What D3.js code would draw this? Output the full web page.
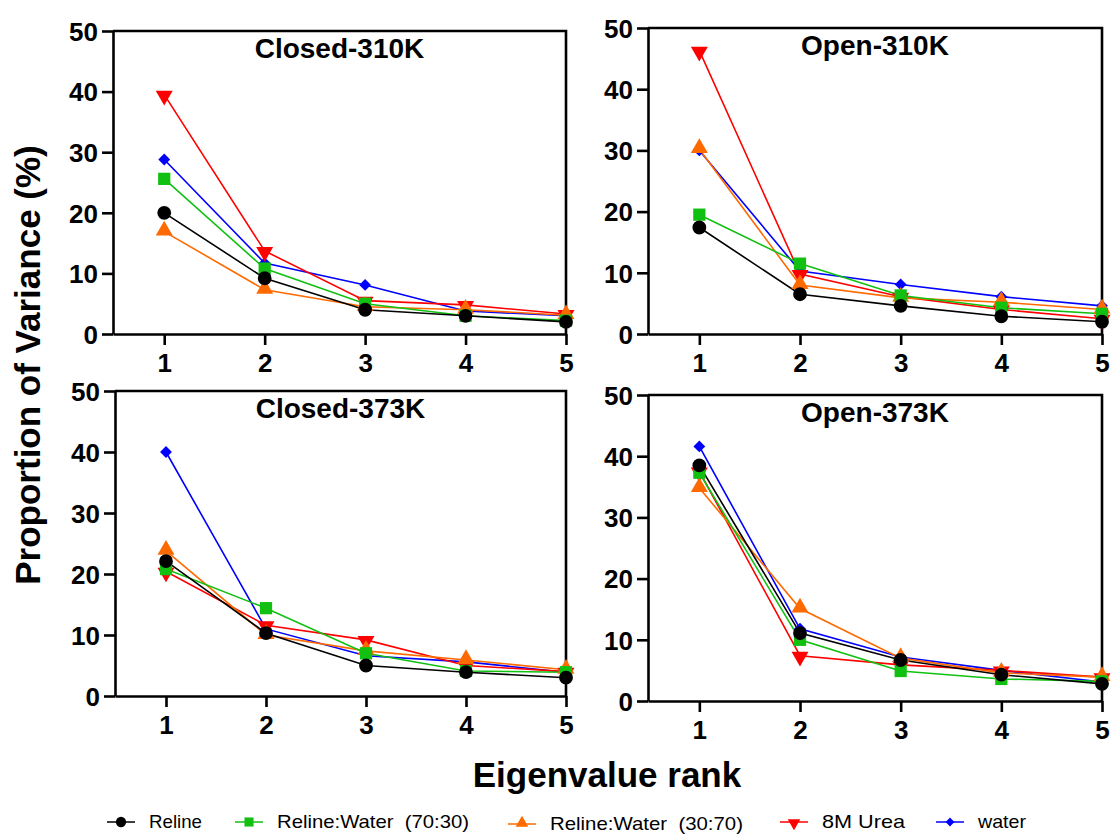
<!DOCTYPE html>
<html>
<head>
<meta charset="utf-8">
<script src="https://cdn.jsdelivr.net/npm/d3@7/dist/d3.min.js"></script>
<style>
  html, body { margin: 0; padding: 0; background: #ffffff; }
  svg { display: block; }
</style>
</head>
<body>
<svg id="chart" width="1113" height="834"></svg>
<script>
// Eigenvalue ranks shown on every panel
const ranks = [1, 2, 3, 4, 5];
const yTicks = [0, 10, 20, 30, 40, 50];

// Series names (legend order) and their colours / symbols
const seriesNames = ["Reline", "Reline:Water  (70:30)", "Reline:Water  (30:70)", "8M Urea", "water"];
const seriesColors = ["#000000", "#12c012", "#ff6a00", "#ff0000", "#0000ff"];
const seriesShapes = ["circle", "square", "triangle", "triangleDown", "diamond"];

// Panel titles
const panelTitles = ["Closed-310K", "Open-310K", "Closed-373K", "Open-373K"];

// Proportion of variance (%) per panel, one array per series (ranks 1..5)
const closed310 = [
  [20.0, 9.2, 4.0, 3.0, 2.0],
  [25.6, 10.8, 5.0, 3.0, 2.2],
  [16.9, 7.3, 4.5, 4.0, 3.1],
  [39.5, 13.7, 5.5, 4.8, 3.3],
  [28.8, 11.7, 8.1, 3.8, 3.0]
];
const open310 = [
  [17.4, 6.5, 4.6, 2.9, 2.0],
  [19.5, 11.5, 6.3, 4.3, 3.3],
  [30.2, 8.0, 5.9, 5.2, 4.0],
  [46.3, 9.8, 6.1, 4.0, 2.5],
  [30.0, 10.3, 8.1, 6.1, 4.6]
];
const closed373 = [
  [22.1, 10.3, 5.0, 3.9, 3.0],
  [20.8, 14.4, 7.0, 4.1, 3.9],
  [23.8, 10.0, 7.4, 5.9, 4.3],
  [20.4, 11.6, 9.2, 5.0, 4.0],
  [40.0, 11.0, 6.6, 5.6, 3.9]
];
const open373 = [
  [38.5, 11.1, 6.7, 4.3, 2.8],
  [37.3, 10.0, 4.9, 3.6, 3.2],
  [34.8, 15.1, 7.0, 4.6, 3.9],
  [37.5, 7.4, 5.9, 5.0, 3.9],
  [41.6, 11.8, 7.2, 5.0, 3.1]
];
const panelData = [closed310, open310, closed373, open373];

// Plot rectangles for the 2x2 grid
const panels = [
  { x0: 113, x1: 566, y0: 31, y1: 334 },
  { x0: 648, x1: 1102, y0: 28, y1: 334 },
  { x0: 115, x1: 566, y0: 391, y1: 696 },
  { x0: 648, x1: 1102, y0: 395, y1: 701 }
];

const svg = d3.select("#chart");
const FONT = "'Liberation Sans', Arial, Helvetica, sans-serif";

// Marker symbol generator
function symbolPath(shape, size) {
  const map = {
    circle: d3.symbolCircle,
    square: d3.symbolSquare,
    triangle: d3.symbolTriangle,
    triangleDown: d3.symbolTriangle,
    diamond: d3.symbolSquare
  };
  return d3.symbol().type(map[shape]).size(size)();
}
function symbolTransform(shape, x, y) {
  if (shape === "triangleDown") return `translate(${x},${y + 1}) rotate(180)`;
  if (shape === "triangle") return `translate(${x},${y - 1})`;
  if (shape === "diamond") return `translate(${x},${y}) rotate(45)`;
  return `translate(${x},${y})`;
}
const markerSize = { circle: 150, square: 150, triangle: 125, triangleDown: 125, diamond: 70 };

// Draw series in this order so black ends up on top
const drawOrder = [4, 3, 2, 1, 0];

panels.forEach((p, pi) => {
  const g = svg.append("g");
  const x = d3.scaleLinear().domain([0.49, 5]).range([p.x0, p.x1]);
  const y = d3.scaleLinear().domain([0, 50]).range([p.y1, p.y0]);

  // Frame (top & right)
  g.append("path")
    .attr("d", `M${p.x0},${p.y0}H${p.x1}V${p.y1}`)
    .attr("fill", "none").attr("stroke", "#000").attr("stroke-width", 2.6);

  // Y axis
  const yAxis = g.append("g").attr("transform", `translate(${p.x0},0)`)
    .call(d3.axisLeft(y).tickValues(yTicks).tickSize(11).tickPadding(4).tickSizeOuter(0));
  yAxis.select(".domain").attr("stroke-width", 2.6);
  yAxis.selectAll(".tick line").attr("stroke-width", 2.6);
  yAxis.selectAll("text").attr("font-family", FONT).attr("font-weight", "bold")
    .attr("font-size", 26).attr("fill", "#000").attr("dy", "0.36em");

  // X axis
  const xAxis = g.append("g").attr("transform", `translate(0,${p.y1})`)
    .call(d3.axisBottom(x).tickValues(ranks).tickFormat(d3.format("d")).tickSize(11).tickPadding(9).tickSizeOuter(0));
  xAxis.select(".domain").attr("stroke-width", 2.6);
  xAxis.selectAll(".tick line").attr("stroke-width", 2.6);
  xAxis.selectAll("text").attr("font-family", FONT).attr("font-weight", "bold")
    .attr("font-size", 26).attr("fill", "#000");

  // Title
  g.append("text")
    .attr("x", (p.x0 + p.x1) / 2).attr("y", p.y0 + 27)
    .attr("text-anchor", "middle")
    .attr("font-family", FONT).attr("font-weight", "bold").attr("font-size", 28)
    .text(panelTitles[pi]);

  const line = d3.line().x((d, i) => x(ranks[i])).y(d => y(d));

  drawOrder.forEach(si => {
    const vals = panelData[pi][si];
    g.append("path").datum(vals)
      .attr("d", line)
      .attr("fill", "none")
      .attr("stroke", seriesColors[si])
      .attr("stroke-width", 1.6);
  });
  drawOrder.forEach(si => {
    const vals = panelData[pi][si];
    const shape = seriesShapes[si];
    g.selectAll(null).data(vals).enter().append("path")
      .attr("d", symbolPath(shape, markerSize[shape]))
      .attr("transform", (d, i) => symbolTransform(shape, x(ranks[i]), y(d)))
      .attr("fill", seriesColors[si]);
  });
});

// Shared axis titles
svg.append("text")
  .attr("transform", "translate(40,365) rotate(-90)")
  .attr("text-anchor", "middle")
  .attr("font-family", FONT).attr("font-weight", "bold").attr("font-size", 35)
  .text("Proportion of Variance (%)");

svg.append("text")
  .attr("x", 607).attr("y", 787)
  .attr("text-anchor", "middle")
  .attr("font-family", FONT).attr("font-weight", "bold").attr("font-size", 35)
  .text("Eigenvalue rank");

// Legend
const legendX = [121, 249, 522, 794, 950];
const legendY = [822, 822, 824, 822, 822];
const legendTextWidth = [53, 192, 193, 83, 48];
seriesNames.forEach((name, si) => {
  const lg = svg.append("g");
  const cx = legendX[si], cy = legendY[si];
  lg.append("line")
    .attr("x1", cx - 14).attr("x2", cx + 14).attr("y1", cy).attr("y2", cy)
    .attr("stroke", seriesColors[si]).attr("stroke-width", 1.5);
  const shape = seriesShapes[si];
  lg.append("path")
    .attr("d", symbolPath(shape, markerSize[shape] * 0.55))
    .attr("transform", symbolTransform(shape, cx, cy))
    .attr("fill", seriesColors[si]);
  lg.append("text")
    .attr("x", cx + 28).attr("y", cy + 6)
    .attr("font-family", FONT).attr("font-size", 19)
    .attr("fill", "#000")
    .attr("textLength", legendTextWidth[si])
    .attr("lengthAdjust", "spacingAndGlyphs")
    .style("white-space", "pre")
    .text(name);
});
</script>
</body>
</html>
